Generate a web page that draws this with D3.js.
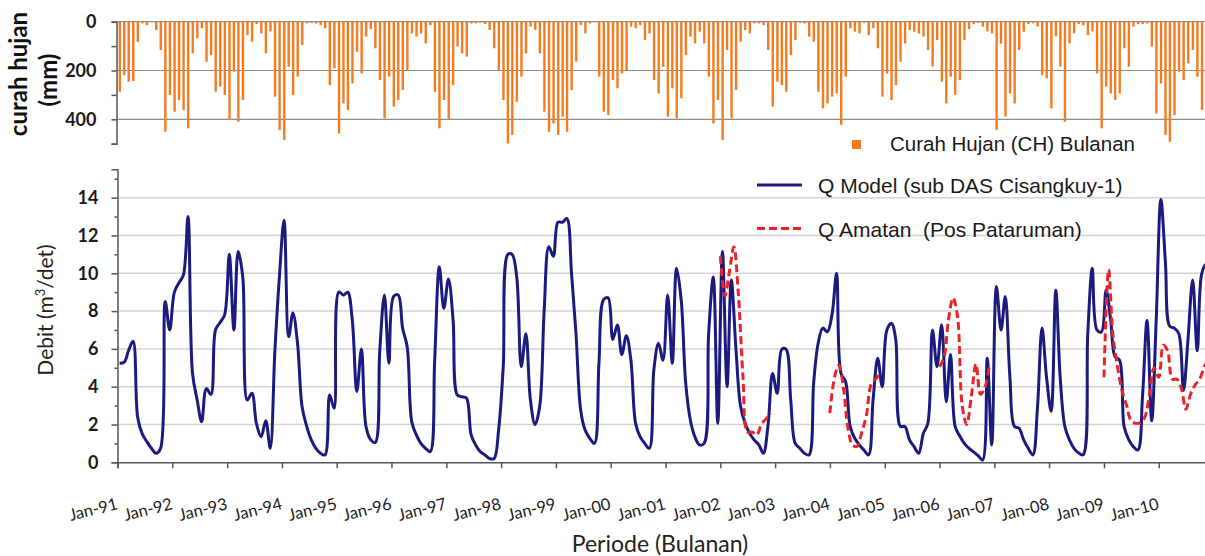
<!DOCTYPE html>
<html>
<head>
<meta charset="utf-8">
<script src="https://cdn.jsdelivr.net/npm/d3@7"></script>
<style>
  body { margin: 0; background: #fff; }
  svg { display: block; }
</style>
</head>
<body>
<div id="chart"></div>
<script>
// monthly series, Jan-91 .. Dec-10 (240 months)
const firstYear = 1991;
const yearLabels = ["Jan-91","Jan-92","Jan-93","Jan-94","Jan-95","Jan-96","Jan-97","Jan-98","Jan-99","Jan-00",
                    "Jan-01","Jan-02","Jan-03","Jan-04","Jan-05","Jan-06","Jan-07","Jan-08","Jan-09","Jan-10"];

// curah hujan bulanan (mm)
const rainfall = [
  287,219,246,243,83,7,14,0,34,116,451,300,
  369,321,362,437,130,68,27,164,137,287,266,300,
  403,205,410,321,55,82,10,48,130,40,307,444,
  485,184,300,225,96,7,5,7,14,27,260,191,
  458,335,362,253,123,212,61,30,109,239,396,225,
  348,321,280,198,48,61,48,89,14,287,437,321,
  403,260,102,130,143,7,7,4,10,34,109,198,
  321,499,464,328,225,130,20,34,130,369,451,417,
  464,389,451,280,164,14,48,7,0,225,369,383,
  239,273,212,198,20,27,14,75,48,239,294,184,
  389,273,396,314,137,61,89,41,89,225,417,321,
  485,116,396,280,82,34,48,7,7,14,116,348,
  246,260,287,137,75,4,7,61,82,287,355,335,
  307,294,423,225,27,41,48,4,55,27,109,307,
  212,321,260,164,89,34,41,48,61,116,184,75,
  246,335,225,300,239,75,30,10,5,20,40,48,
  444,90,389,294,335,116,41,10,7,20,219,232,
  355,60,184,410,89,48,10,15,55,40,212,437,
  266,294,321,294,109,184,20,10,10,7,102,376,
  253,464,492,383,205,239,171,116,225,362,205,150
];

// Q Model (sub DAS Cisangkuy-1), m3/det
const qModel = [
  5.24,5.3,5.9,6.4,2.4,1.5,1.1,0.74,0.48,0.74,8.5,7.0,
  9.0,9.5,9.9,13.0,4.7,3.3,2.15,3.9,3.6,7.0,7.4,7.8,
  11.0,7.0,11.15,9.8,3.3,3.65,2.05,1.35,2.2,0.74,5.9,9.8,
  12.8,6.65,7.9,6.3,2.95,1.9,1.2,0.74,0.48,0.39,3.56,2.86,
  9.0,8.85,9.0,7.5,3.74,6.0,1.9,1.2,1.05,5.9,8.85,5.24,
  8.77,8.85,7.1,6.1,2.15,1.45,1.0,0.74,0.56,5.4,10.35,8.15,
  9.7,7.5,3.56,3.47,3.4,1.45,0.92,0.56,0.39,0.2,0.2,1.7,
  5.06,11.0,11.0,9.8,5.06,6.8,3.3,2.0,2.95,8.06,11.4,10.9,
  12.7,12.7,12.9,10.0,6.8,2.77,1.7,1.27,1.0,5.24,8.6,8.7,
  6.5,7.27,5.7,6.7,5.4,2.06,1.36,1.0,0.74,4.9,6.3,5.4,
  8.85,5.24,10.26,8.6,4.2,2.24,1.36,0.92,1.0,6.8,9.8,2.06,
  11.15,4.0,9.65,6.0,3.0,2.06,1.53,1.18,0.92,0.48,1.98,4.7,
  3.65,5.98,5.98,3.3,1.0,0.74,0.48,0.39,4.2,6.3,7.1,6.9,
  7.8,10.0,4.7,4.27,1.9,1.27,0.92,0.65,0.39,3.3,5.5,4.0,
  7.0,7.35,6.5,1.9,1.9,1.18,0.83,0.48,1.53,2.06,7.0,5.06,
  7.27,3.2,5.7,1.9,1.4,1.0,0.75,0.55,0.35,0.12,5.5,0.92,
  9.3,7.0,8.77,4.5,1.9,1.8,1.2,0.74,0.39,2.8,7.1,4.5,
  2.7,9.1,4.5,1.9,1.2,0.74,0.5,0.4,6.8,10.26,7.0,6.9,
  9.1,7.5,5.6,5.4,1.9,1.2,0.83,0.65,3.5,7.5,2.2,7.5,
  13.9,10.5,7.2,7.1,6.8,3.8,6.5,9.65,5.9,10.0,10.5,10.5
];

// Q Amatan (Pos Pataruman), observed only in some years
const amatan2002 = [10.9,8.8,10.0,11.4,8.9,4.5,1.6,1.6,1.45,2.0,2.3,2.6];
const amatan2004 = [2.6,4.5,5.15,3.9,1.8,0.9,0.85,1.6,2.5,4.1,4.4,4.7];
const amatan2006 = [5.05,5.6,7.5,8.7,7.7,3.0,2.0,3.5,5.2,3.6,4.0,5.2];
const amatan2009 = [4.5,10.2,6.8,5.06,3.8,3.0,2.2,2.06,2.1,2.4,3.65,5.0,
                    4.5,6.2,5.9,4.4,4.4,3.9,2.8,3.6,4.1,4.4,5.06,5.5];

const rainTicks = [0, 100, 200, 300, 400, 500];
const qTicks = [0, 2, 4, 6, 8, 10, 12, 14];

const legendItems = {
  rain: "Curah Hujan (CH) Bulanan",
  model: "Q Model (sub DAS Cisangkuy-1)",
  obs: "Q Amatan\u00a0\u00a0(Pos Pataruman)"
};

const W = 1205, H = 556;
const axisFont = "Lato, 'Open Sans', sans-serif";
const legendFont = "'Liberation Sans', Arial, sans-serif";
const axisColor = "#555";

const svg = d3.select("#chart").append("svg")
    .attr("width", W).attr("height", H)
    .attr("viewBox", `0 0 ${W} ${H}`);

const month = i => new Date(firstYear, i, 1);
const midMonth = i => new Date(firstYear, i, 15);

const x = d3.scaleTime()
    .domain([new Date(1991, 0, 1), new Date(2011, 0, 1)])
    .range([117.5, 1213.5]);
const yRain = d3.scaleLinear().domain([0, 500]).range([21.7, 143.7]);
const yQ = d3.scaleLinear().domain([0, 15.5]).range([462.3, 169.3]);

svg.append("clipPath").attr("id", "plotclip")
    .append("rect").attr("x", 117).attr("y", 0).attr("width", W - 117).attr("height", H);

// ---------- top panel : rainfall ----------
svg.append("g")
    .selectAll("line")
    .data([0, 200, 400])
    .join("line")
    .attr("x1", 117).attr("x2", W)
    .attr("y1", d => yRain(d)).attr("y2", d => yRain(d))
    .attr("stroke", "#8c8c8c").attr("stroke-width", 1.2);

const barW = 2.4;
svg.append("g")
    .attr("clip-path", "url(#plotclip)")
    .selectAll("rect")
    .data(rainfall)
    .join("rect")
    .attr("x", (d, i) => (x(month(i)) + x(month(i + 1))) / 2 - barW / 2)
    .attr("y", yRain(0))
    .attr("width", barW)
    .attr("height", d => yRain(d) - yRain(0))
    .attr("fill", "#f47c20");

const rainAxis = svg.append("g")
    .attr("transform", "translate(116.5,0)")
    .call(d3.axisLeft(yRain).tickValues(rainTicks).tickSize(5).tickPadding(15)
        .tickFormat(d => d % 200 === 0 ? d : ""));
rainAxis.select(".domain").attr("stroke", axisColor).attr("stroke-width", 1.5);
rainAxis.selectAll(".tick line").attr("stroke", axisColor).attr("stroke-width", 1.5);
rainAxis.selectAll("text")
    .attr("font-family", axisFont).attr("font-size", 18).attr("font-weight", "bold")
    .attr("fill", "#1a1a1a");

svg.append("text")
    .attr("transform", "translate(27,74) rotate(-90)")
    .attr("text-anchor", "middle")
    .attr("font-family", axisFont).attr("font-size", 24).attr("font-weight", "bold")
    .attr("fill", "#111")
    .text("curah hujan");
svg.append("text")
    .attr("transform", "translate(57,80) rotate(-90)")
    .attr("text-anchor", "middle")
    .attr("font-family", axisFont).attr("font-size", 24).attr("font-weight", "bold")
    .attr("fill", "#111")
    .text("(mm)");

// ---------- bottom panel : discharge ----------
svg.append("g")
    .selectAll("line")
    .data(qTicks.filter(d => d > 0))
    .join("line")
    .attr("x1", 117).attr("x2", W)
    .attr("y1", d => yQ(d)).attr("y2", d => yQ(d))
    .attr("stroke", "#d4d4d4").attr("stroke-width", 1.5);

const qAxis = svg.append("g")
    .attr("transform", "translate(117.5,0)")
    .call(d3.axisLeft(yQ).tickValues(qTicks).tickSize(6).tickPadding(13));
qAxis.select(".domain").attr("stroke", axisColor).attr("stroke-width", 1.5);
qAxis.selectAll(".tick line").attr("stroke", axisColor).attr("stroke-width", 1.5);
qAxis.selectAll("text")
    .attr("font-family", axisFont).attr("font-size", 18).attr("font-weight", "bold")
    .attr("fill", "#1a1a1a");

const qMinor = svg.append("g")
    .attr("transform", "translate(117.5,0)")
    .call(d3.axisLeft(yQ).tickValues(d3.range(1, 16, 2)).tickSize(3).tickFormat(""));
qMinor.select(".domain").remove();
qMinor.selectAll(".tick line").attr("stroke", axisColor).attr("stroke-width", 1.5);

const xAxis = svg.append("g")
    .attr("transform", `translate(0,${yQ(0)})`)
    .call(d3.axisBottom(x)
        .tickValues(yearLabels.map((d, i) => new Date(firstYear + i, 0, 1)))
        .tickSize(6).tickFormat(""));
xAxis.select(".domain").attr("stroke", axisColor).attr("stroke-width", 1.5);
xAxis.selectAll(".tick line").attr("stroke", axisColor).attr("stroke-width", 1.5);

svg.append("g")
    .selectAll("text")
    .data(yearLabels)
    .join("text")
    .attr("transform", (d, i) => `translate(${x(new Date(firstYear + i, 0, 1)) + 1},509) rotate(-14)`)
    .attr("text-anchor", "end")
    .attr("font-family", axisFont).attr("font-size", 16.5)
    .attr("fill", "#222")
    .text(d => d);

svg.append("text")
    .attr("transform", "translate(53,310) rotate(-90)")
    .attr("text-anchor", "middle")
    .attr("font-family", axisFont).attr("font-size", 21)
    .attr("fill", "#222")
    .html("Debit (m<tspan dy='-8' font-size='13'>3</tspan><tspan dy='8'>/det)</tspan>");

svg.append("text")
    .attr("x", 660).attr("y", 552)
    .attr("text-anchor", "middle")
    .attr("font-family", axisFont).attr("font-size", 23)
    .attr("fill", "#222")
    .text("Periode (Bulanan)");

// lines
const modelLine = d3.line()
    .x((d, i) => x(midMonth(i)))
    .y(d => yQ(d))
    .curve(d3.curveCatmullRom.alpha(0.5));

svg.append("path")
    .attr("clip-path", "url(#plotclip)")
    .datum(qModel)
    .attr("d", modelLine)
    .attr("fill", "none")
    .attr("stroke", "#1b1a7e")
    .attr("stroke-width", 3)
    .attr("stroke-linejoin", "round");

const obsSegments = [
  {start: (2002 - firstYear) * 12, values: amatan2002},
  {start: (2004 - firstYear) * 12, values: amatan2004},
  {start: (2006 - firstYear) * 12, values: amatan2006},
  {start: (2009 - firstYear) * 12, values: amatan2009}
];

const obsLine = d3.line()
    .x(d => x(month(d.i)))
    .y(d => yQ(d.v))
    .curve(d3.curveCatmullRom.alpha(0.5));

svg.append("g")
    .attr("clip-path", "url(#plotclip)")
    .selectAll("path")
    .data(obsSegments)
    .join("path")
    .attr("d", s => obsLine(s.values.map((v, k) => ({i: s.start + k, v}))))
    .attr("fill", "none")
    .attr("stroke", "#e8242b")
    .attr("stroke-width", 3)
    .attr("stroke-dasharray", "8,4");

// ---------- legends ----------
svg.append("rect")
    .attr("x", 852).attr("y", 140).attr("width", 9).attr("height", 9)
    .attr("fill", "#f47c20");
svg.append("text")
    .attr("x", 890).attr("y", 151)
    .attr("font-family", legendFont).attr("font-size", 20.5)
    .attr("fill", "#1a1a1a")
    .text(legendItems.rain);

svg.append("line")
    .attr("x1", 757).attr("x2", 802).attr("y1", 185).attr("y2", 185)
    .attr("stroke", "#1b1a7e").attr("stroke-width", 3);
svg.append("text")
    .attr("x", 818).attr("y", 193)
    .attr("font-family", legendFont).attr("font-size", 21)
    .attr("fill", "#1a1a1a")
    .text(legendItems.model);

svg.append("line")
    .attr("x1", 757).attr("x2", 803).attr("y1", 228.5).attr("y2", 228.5)
    .attr("stroke", "#e8242b").attr("stroke-width", 3)
    .attr("stroke-dasharray", "8,4");
svg.append("text")
    .attr("x", 818).attr("y", 237)
    .attr("font-family", legendFont).attr("font-size", 21)
    .attr("fill", "#1a1a1a")
    .text(legendItems.obs);
</script>
</body>
</html>
